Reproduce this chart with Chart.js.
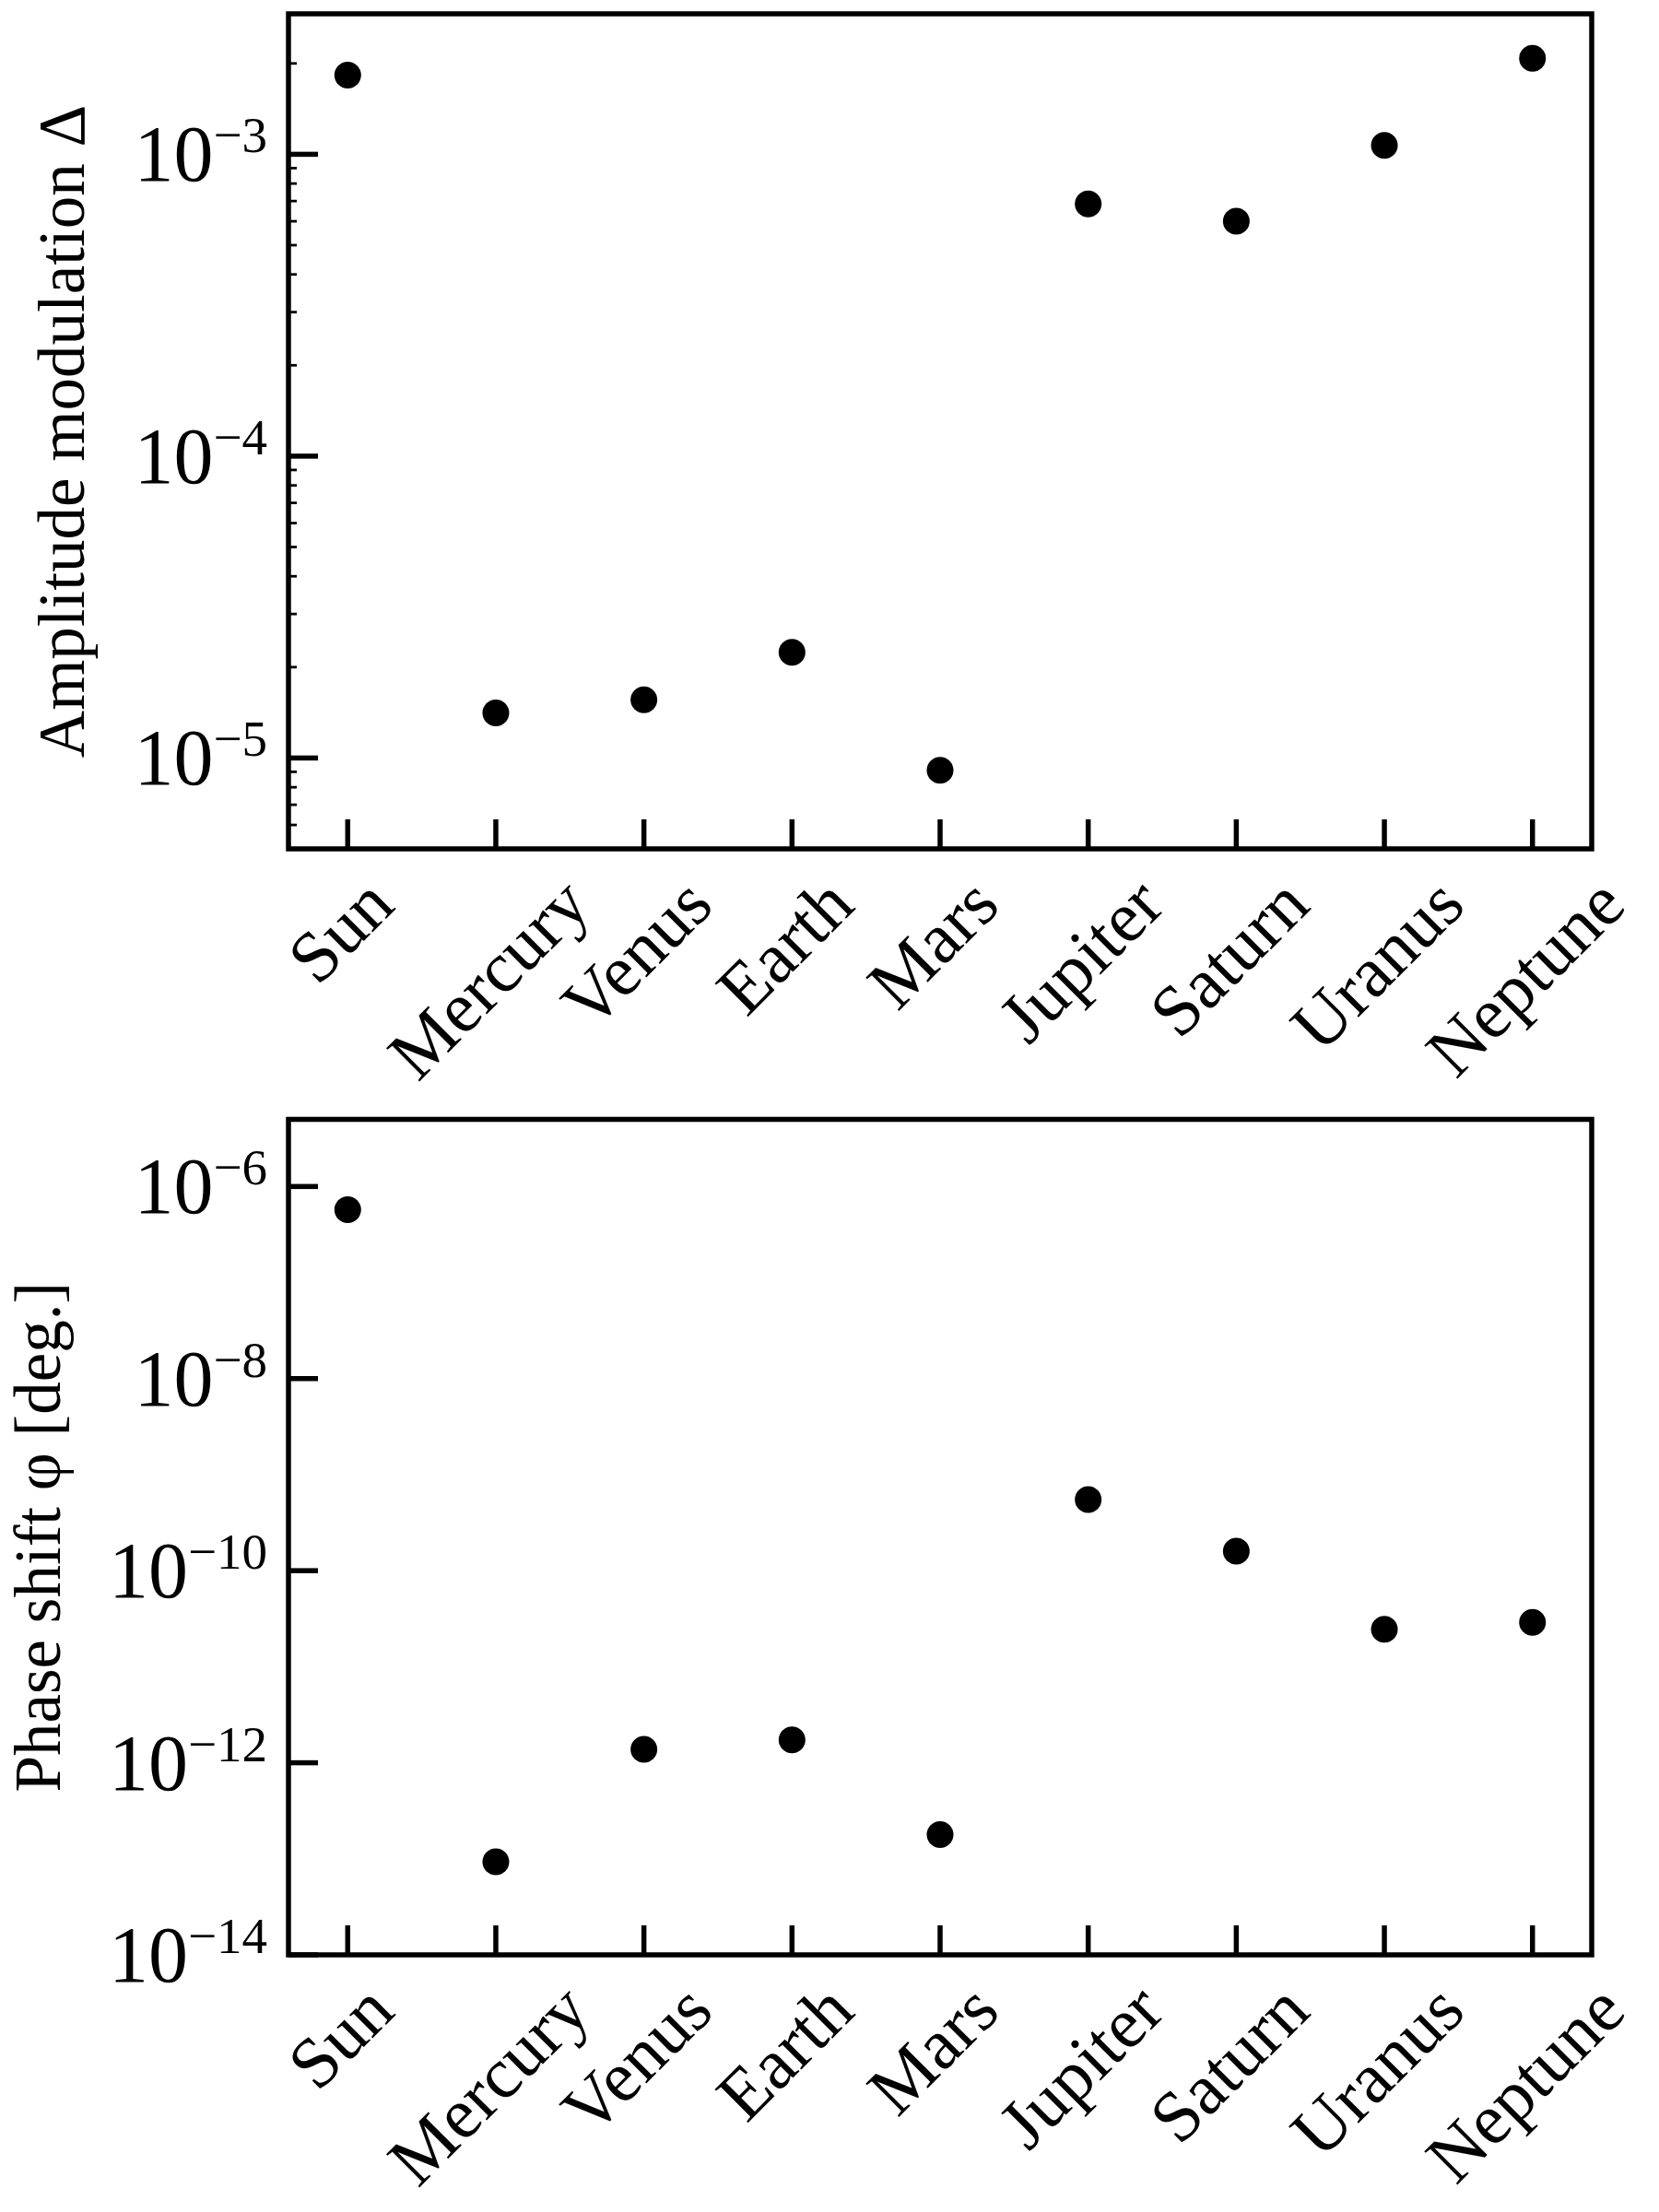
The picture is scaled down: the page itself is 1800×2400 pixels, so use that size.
<!DOCTYPE html>
<html>
<head>
<meta charset="utf-8">
<script src="https://cdn.jsdelivr.net/npm/chart.js@4.4.1/dist/chart.umd.min.js"></script>
<style>
  html, body { margin: 0; padding: 0; background: #fff; }
  canvas { display: block; }
</style>
</head>
<body>
<canvas id="ampChart" width="1800" height="1200"></canvas>
<canvas id="phaseChart" width="1800" height="1200"></canvas>
<script>
const planets = ['Sun', 'Mercury', 'Venus', 'Earth', 'Mars', 'Jupiter', 'Saturn', 'Uranus', 'Neptune'];

// amplitude modulation Delta
const amplitude = [1.83e-3, 1.41e-5, 1.56e-5, 2.24e-5, 9.1e-6, 6.85e-4, 6.0e-4, 1.07e-3, 2.08e-3];
// phase shift phi [deg.]
const phaseShift = [5.75e-7, 9.3e-14, 1.38e-12, 1.73e-12, 1.79e-13, 5.5e-10, 1.6e-10, 2.46e-11, 2.9e-11];

const ampMajorTicks = [1e-5, 1e-4, 1e-3];
const ampMinorTicks = [6e-6, 7e-6, 8e-6, 9e-6,
    2e-5, 3e-5, 4e-5, 5e-5, 6e-5, 7e-5, 8e-5, 9e-5,
    2e-4, 3e-4, 4e-4, 5e-4, 6e-4, 7e-4, 8e-4, 9e-4,
    2e-3];
const phaseMajorTicks = [1e-14, 1e-12, 1e-10, 1e-8, 1e-6];
const phaseMinorTicks = [];

const SERIF = '"Liberation Serif", "DejaVu Serif", serif';

// matplotlib-like frame, inward ticks and 10^n labels
const mplAxes = {
    id: 'mplAxes',
    afterDraw(chart, args, opts) {
        const { ctx, chartArea: area, scales: { x, y } } = chart;
        ctx.save();
        ctx.strokeStyle = '#000';
        ctx.fillStyle = '#000';
        ctx.lineCap = 'butt';

        ctx.lineWidth = 2.8;
        opts.minor.forEach(v => {
            const py = y.getPixelForValue(v);
            ctx.beginPath();
            ctx.moveTo(area.left, py);
            ctx.lineTo(area.left + 9, py);
            ctx.stroke();
        });

        ctx.lineWidth = 5.5;
        opts.major.forEach(v => {
            const py = y.getPixelForValue(v);
            ctx.beginPath();
            ctx.moveTo(area.left, py);
            ctx.lineTo(area.left + 32, py);
            ctx.stroke();
        });
        planets.forEach((_, i) => {
            const px = x.getPixelForValue(i);
            ctx.beginPath();
            ctx.moveTo(px, area.bottom);
            ctx.lineTo(px, area.bottom - 32);
            ctx.stroke();
        });
        ctx.strokeRect(area.left, area.top, area.right - area.left, area.bottom - area.top);

        // y tick labels
        const xr = area.left - 23;
        ctx.textBaseline = 'alphabetic';
        opts.major.forEach(v => {
            const py = y.getPixelForValue(v);
            const exp = '\u2212' + Math.abs(Math.round(Math.log10(v)));
            ctx.font = `55px ${SERIF}`;
            const we = ctx.measureText(exp).width;
            ctx.textAlign = 'left';
            ctx.fillText(exp, xr - we, py - 2);
            ctx.font = `86px ${SERIF}`;
            ctx.textAlign = 'right';
            ctx.fillText('10', xr - we, py + 29);
        });

        // x tick labels, rotated 45 deg and centred on the tick
        ctx.font = `78px ${SERIF}`;
        ctx.textAlign = 'center';
        ctx.textBaseline = 'middle';
        planets.forEach((name, i) => {
            const px = x.getPixelForValue(i);
            const w = ctx.measureText(name).width;
            const half = (w + 78 * 1.15) * Math.SQRT1_2 / 2;
            ctx.save();
            ctx.translate(px - 4, area.bottom + 18 + half);
            ctx.rotate(-Math.PI / 4);
            ctx.fillText(name, 0, 0);
            ctx.restore();
        });
        ctx.restore();
    }
};

function createPlanetChart(canvasId, values, yMin, yMax, title, major, minor, topPad, titlePad) {
    const ctx = document.getElementById(canvasId).getContext('2d');
    new Chart(ctx, {
        type: 'scatter',
        data: {
            datasets: [{
                data: values.map((v, i) => ({ x: i, y: v })),
                backgroundColor: '#000',
                borderWidth: 0,
                pointRadius: 14.5,
                pointHoverRadius: 14.5
            }]
        },
        options: {
            responsive: false,
            animation: false,
            layout: { padding: { top: topPad, right: 73, bottom: 0, left: 0 } },
            plugins: {
                legend: { display: false },
                tooltip: { enabled: false },
                mplAxes: { major: major, minor: minor }
            },
            scales: {
                x: {
                    type: 'linear',
                    min: -0.4,
                    max: 8.4,
                    grid: { display: false },
                    border: { display: false },
                    ticks: { display: false },
                    afterFit: s => { s.height = 279; }
                },
                y: {
                    type: 'logarithmic',
                    min: yMin,
                    max: yMax,
                    grid: { display: false },
                    border: { display: false },
                    ticks: { display: false },
                    title: {
                        display: true,
                        text: title,
                        color: '#000',
                        font: { family: SERIF, size: 71 },
                        padding: { top: titlePad, bottom: 0 }
                    },
                    afterFit: s => { s.width = 313; }
                }
            }
        },
        plugins: [mplAxes]
    });
}

createPlanetChart('ampChart', amplitude, 5e-6, 2.92e-3, 'Amplitude modulation Δ',
    ampMajorTicks, ampMinorTicks, 15, 30);
createPlanetChart('phaseChart', phaseShift, 1e-14, 5e-6, 'Phase shift φ [deg.]',
    phaseMajorTicks, phaseMinorTicks, 13, 4);
</script>
</body>
</html>
